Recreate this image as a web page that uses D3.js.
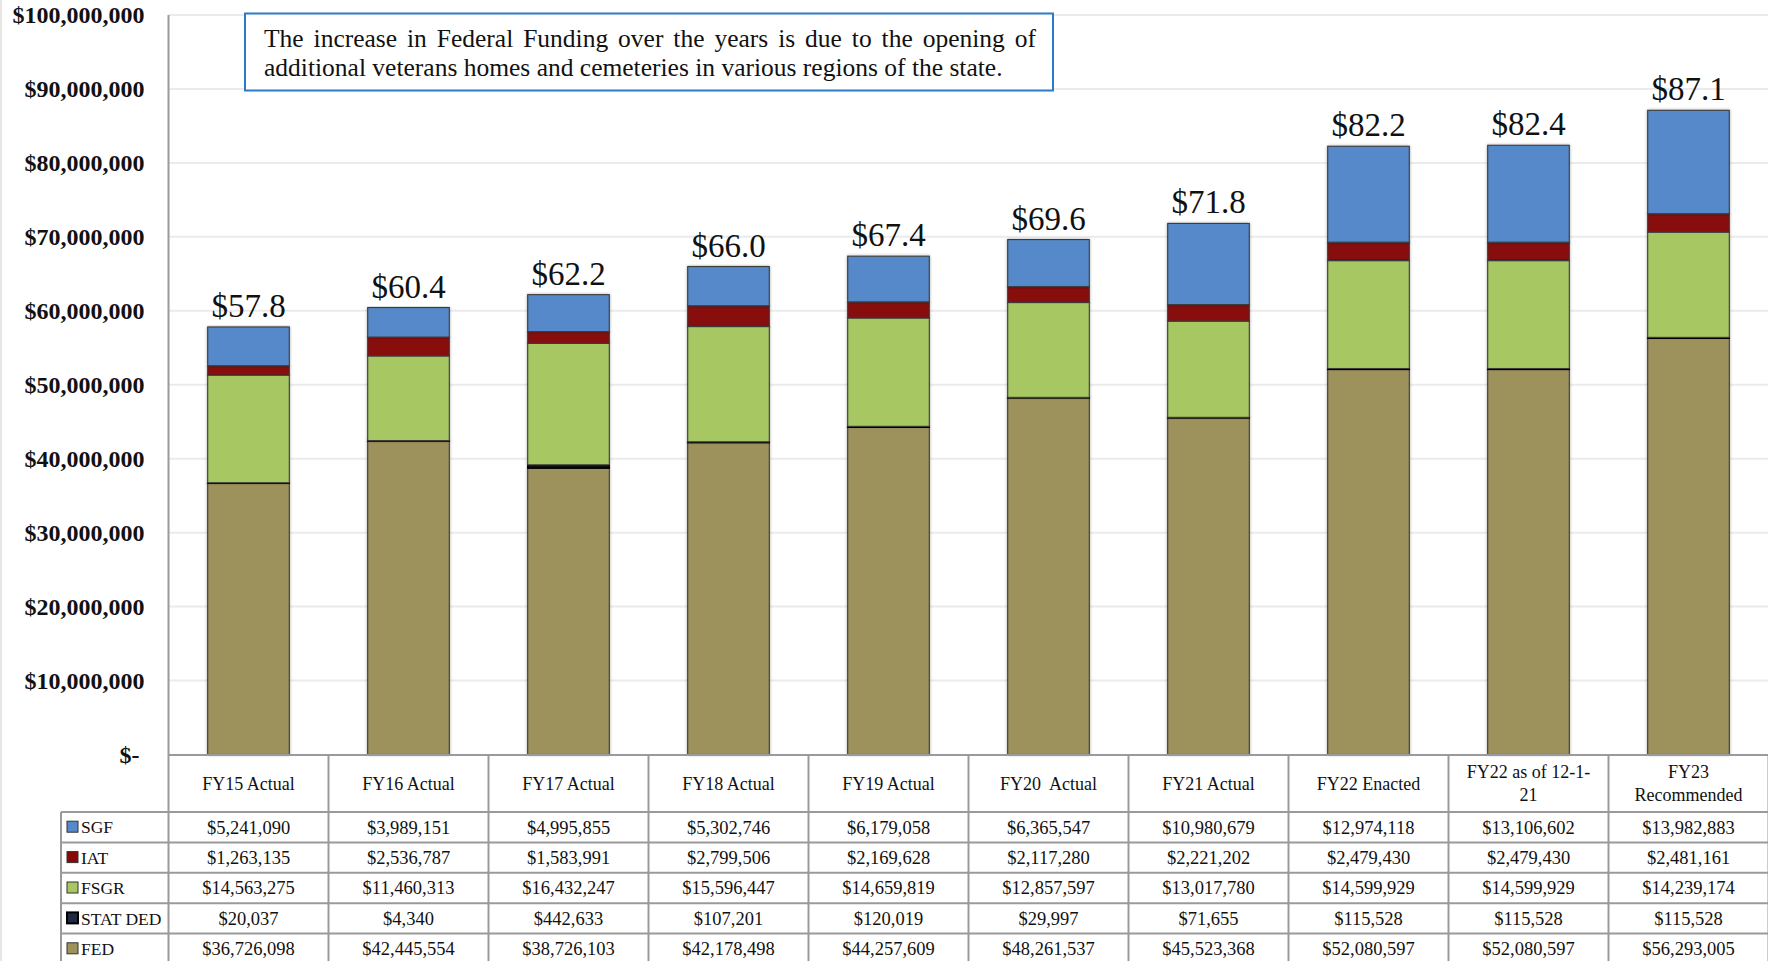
<!DOCTYPE html>
<html><head><meta charset="utf-8">
<script src="https://cdn.jsdelivr.net/npm/d3@7"></script>
<style>
html,body{margin:0;padding:0;background:#fff;}
svg{display:block;}
</style></head>
<body>
<script>
// ---------- DATA ----------
const categories = ["FY15 Actual","FY16 Actual","FY17 Actual","FY18 Actual","FY19 Actual","FY20  Actual","FY21 Actual","FY22 Enacted","FY22 as of 12-1-21","FY23 Recommended"];
const categoryLines = [["FY15 Actual"],["FY16 Actual"],["FY17 Actual"],["FY18 Actual"],["FY19 Actual"],["FY20  Actual"],["FY21 Actual"],["FY22 Enacted"],["FY22 as of 12-1-","21"],["FY23","Recommended"]];
const seriesNames = ["SGF","IAT","FSGR","STAT DED","FED"];
const SGF     = [5241090,3989151,4995855,5302746,6179058,6365547,10980679,12974118,13106602,13982883];
const IAT     = [1263135,2536787,1583991,2799506,2169628,2117280,2221202,2479430,2479430,2481161];
const FSGR    = [14563275,11460313,16432247,15596447,14659819,12857597,13017780,14599929,14599929,14239174];
const STATDED = [20037,4340,442633,107201,120019,29997,71655,115528,115528,115528];
const FED     = [36726098,42445554,38726103,42178498,44257609,48261537,45523368,52080597,52080597,56293005];
const yTicks  = [0,10e6,20e6,30e6,40e6,50e6,60e6,70e6,80e6,90e6,100e6];
const note = ["The increase in Federal Funding over the years is due to the opening of",
              "additional veterans homes and cemeteries in various regions of the state."];

const seriesValues = {"SGF":SGF,"IAT":IAT,"FSGR":FSGR,"STAT DED":STATDED,"FED":FED};
const colors = {"SGF":"#5589c9","IAT":"#880707","FSGR":"#a7c763","STAT DED":"#111","FED":"#9e925b"};
const stackOrder = ["FED","STAT DED","FSGR","IAT","SGF"];

// ---------- LAYOUT ----------
const W = 1768, H = 961;
const plotL = 168.5, plotR = 1768.5, plotT = 15, plotB = 754.5;
const tableL = 61;
const headerB = 812;
const rowH = 30.4;
const serif = "'Liberation Serif','Times New Roman',serif";

const svg = d3.select("body").append("svg").attr("width",W).attr("height",H)
  .style("font-family", serif);

const defs = svg.append("defs");
const f = defs.append("filter").attr("id","sh").attr("x","-20%").attr("y","-5%").attr("width","140%").attr("height","110%");
f.append("feDropShadow").attr("dx",0).attr("dy",0).attr("stdDeviation",1.6).attr("flood-color","#000").attr("flood-opacity",0.35);

const x = d3.scaleBand().domain(categories).range([plotL, plotR]).paddingInner(0.49).paddingOuter(0.245);
const y = d3.scaleLinear().domain([0, 100e6]).range([plotB, plotT]);

// left faint border
svg.append("line").attr("x1",1).attr("x2",1).attr("y1",0).attr("y2",H).attr("stroke","#e6e6e6").attr("stroke-width",2);

// gridlines
svg.append("g").selectAll("line").data(yTicks.filter(d=>d>0)).join("line")
  .attr("x1",plotL).attr("x2",plotR).attr("y1",d=>y(d)).attr("y2",d=>y(d))
  .attr("stroke","#ebebeb").attr("stroke-width",2);

// y axis labels
const yAxis = d3.axisLeft(y).tickValues(yTicks).tickSize(0).tickPadding(0)
  .tickFormat(d => d === 0 ? "$-" : d3.format("$,.0f")(d));
const ya = svg.append("g").attr("transform",`translate(${plotL-24},0)`).call(yAxis);
ya.select(".domain").remove();
ya.selectAll("text").attr("font-family",serif).attr("font-weight","bold").attr("font-size","24px").attr("fill","#111")
  .attr("dy","0.33em")
  .attr("dx", d => d===0 ? -5 : 0);

// stacked bars
const rows = categories.map((c,i)=>{ const o={cat:c}; seriesNames.forEach(s=>o[s]=seriesValues[s][i]); return o; });
const stack = d3.stack().keys(stackOrder)(rows);
const barG = svg.append("g");
stack.forEach(layer=>{
  barG.append("g").selectAll("rect").data(layer).join("rect")
    .attr("x", d=>x(d.data.cat)).attr("width", x.bandwidth())
    .attr("y", d=>y(d[1])).attr("height", d=>Math.max(0.5, y(d[0])-y(d[1])))
    .attr("fill", colors[layer.key])
    .attr("stroke", layer.key==="STAT DED" ? "#000" : "#3b3b3b")
    .attr("stroke-width", layer.key==="STAT DED" ? 1.5 : 1.1)
    .attr("filter", layer.key==="STAT DED" ? null : "url(#sh)");
});

// total labels
svg.append("g").selectAll("text").data(rows).join("text")
  .attr("x", d=>x(d.cat)+x.bandwidth()/2)
  .attr("y", d=>y(d3.sum(seriesNames,s=>d[s])) - 10)
  .attr("text-anchor","middle").attr("font-size","33px").attr("fill","#111")
  .text(d=>"$"+(d3.sum(seriesNames,s=>d[s])/1e6).toFixed(1));

// ---------- TABLE ----------
const tg = svg.append("g");
const gridCol = "#9a9a9a";
const step = x.step();
const colEdges = d3.range(categories.length+1).map(i=>plotL + i*step);
tg.append("line").attr("x1",plotL).attr("x2",plotR).attr("y1",plotB+0.5).attr("y2",plotB+0.5).attr("stroke",gridCol).attr("stroke-width",2);
d3.range(seriesNames.length+1).forEach(r=>{
  const yy = headerB + r*rowH;
  tg.append("line").attr("x1",tableL).attr("x2",plotR).attr("y1",yy).attr("y2",yy).attr("stroke",gridCol).attr("stroke-width",2);
});
tg.append("line").attr("x1",tableL).attr("x2",tableL).attr("y1",headerB).attr("y2",H).attr("stroke",gridCol).attr("stroke-width",2);
tg.append("line").attr("x1",plotL).attr("x2",plotL).attr("y1",plotT).attr("y2",H).attr("stroke",gridCol).attr("stroke-width",2);
colEdges.slice(1).forEach(cx=>{
  tg.append("line").attr("x1",cx).attr("x2",cx).attr("y1",plotB).attr("y2",H).attr("stroke",gridCol).attr("stroke-width",2);
});
categories.forEach((c,i)=>{
  const lines = categoryLines[i];
  const cx = x(c)+x.bandwidth()/2;
  const cy = (plotB+headerB)/2;
  const lh = 23;
  lines.forEach((ln,j)=>{
    tg.append("text").attr("x",cx).attr("y", cy + (j-(lines.length-1)/2)*lh).attr("dy","0.35em")
      .attr("text-anchor","middle").attr("font-size","18px").attr("fill","#111")
      .style("white-space","pre").text(ln);
  });
});
const fmt = d3.format("$,");
seriesNames.forEach((s,r)=>{
  const cy = headerB + r*rowH + rowH/2;
  tg.append("rect").attr("x",tableL+6).attr("y",cy-6).attr("width",11).attr("height",11)
    .attr("fill", s==="STAT DED" ? "#1d2c44" : colors[s]).attr("stroke", s==="STAT DED" ? "#000":"#333").attr("stroke-width", s==="STAT DED"?2:1);
  tg.append("text").attr("x",tableL+20).attr("y",cy).attr("dy","0.35em").attr("font-size","17.5px").attr("fill","#111").text(s);
  seriesValues[s].forEach((v,i)=>{
    tg.append("text").attr("x", x(categories[i])+x.bandwidth()/2).attr("y",cy).attr("dy","0.35em")
      .attr("text-anchor","middle").attr("font-size","18.5px").attr("fill","#111").text(fmt(v));
  });
});

// ---------- ANNOTATION ----------
const bx=245, by=13.5, bw=808, bh=77;
const ag = svg.append("g");
ag.append("rect").attr("x",bx).attr("y",by).attr("width",bw).attr("height",bh).attr("fill","#fff").attr("stroke","#2a7bc8").attr("stroke-width",2);
const tL = 264, tR = 1036;
note.forEach((ln,j)=>{
  const t = ag.append("text").attr("x",tL).attr("y", by + 33.5 + j*28.5).attr("font-size","25.5px").attr("fill","#111").text(ln);
  if (j===0) {
    const w = t.node().getComputedTextLength();
    const gaps = (ln.match(/ /g)||[]).length;
    t.attr("word-spacing", ((tR-tL)-w)/gaps);
  }
});
</script>
</body></html>
